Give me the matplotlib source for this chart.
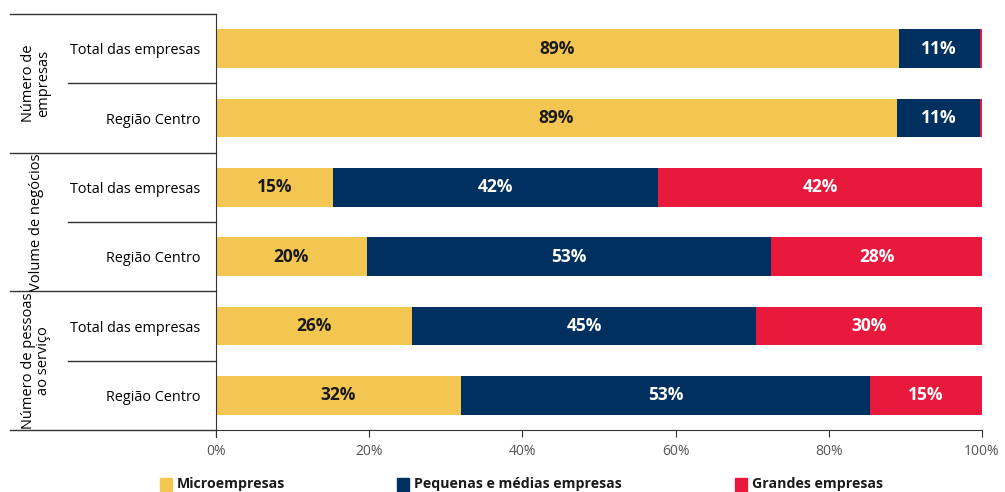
import matplotlib.pyplot as plt
from matplotlib.transforms import blended_transform_factory
from matplotlib.patches import Rectangle

plt.rcParams['font.family'] = ['Open Sans', 'DejaVu Sans']

rows = ['Total das empresas', 'Região Centro',
        'Total das empresas', 'Região Centro',
        'Total das empresas', 'Região Centro']
groups = ['Número de\nempresas', 'Volume de negócios', 'Número de pessoas\nao serviço']

series = ['Microempresas', 'Pequenas e médias empresas', 'Grandes empresas']
colors = ['#F2C651', '#00305F', '#E8193C']
text_colors = ['#1a1a1a', 'white', 'white']

micro = [89.1, 88.9, 15.3, 19.7, 25.6, 32.0]
pme = [10.6, 10.8, 42.4, 52.8, 44.9, 53.4]
grandes = [0.3, 0.3, 42.3, 27.5, 29.5, 14.6]

micro_lbl = ['89%', '89%', '15%', '20%', '26%', '32%']
pme_lbl = ['11%', '11%', '42%', '53%', '45%', '53%']
grandes_lbl = ['', '', '42%', '28%', '30%', '15%']

fig = plt.figure(figsize=(10.05, 4.92), dpi=100)
ax = fig.add_axes([216 / 1005, 1 - 430 / 492, 766 / 1005, 416 / 492])

y = list(range(len(rows)))
left = [0] * len(rows)
for vals, lbls, c, tc in zip([micro, pme, grandes],
                             [micro_lbl, pme_lbl, grandes_lbl],
                             colors, text_colors):
    bars = ax.barh(y, vals, left=left, height=0.56, color=c)
    for b, l in zip(bars, lbls):
        if l:
            ax.text(b.get_x() + b.get_width() / 2, b.get_y() + b.get_height() / 2, l,
                    ha='center', va='center', color=tc, fontsize=12.5, fontweight='bold')
    left = [a + v for a, v in zip(left, vals)]

ax.set_xlim(0, 100)
ax.set_ylim(5.5, -0.5)
ax.set_yticks(y)
ax.set_yticklabels(rows, fontsize=10.4)
ax.tick_params(axis='y', length=0, pad=11)
ax.set_xticks([0, 20, 40, 60, 80, 100])
ax.set_xticklabels(['0%', '20%', '40%', '60%', '80%', '100%'], fontsize=10, color='#555555')
ax.tick_params(axis='x', length=5, width=0.8, pad=5, color='#333333')
for s in ['top', 'right']:
    ax.spines[s].set_visible(False)
ax.spines['left'].set_color('#333333')
ax.spines['bottom'].set_color('#333333')
ax.spines['left'].set_bounds(5.6, -0.5)

# table lines on the left
tr = blended_transform_factory(fig.transFigure, ax.transData)
for yy, x0 in [(-0.5, 10), (0.5, 68), (1.5, 10), (2.5, 68), (3.5, 10), (4.5, 68), (5.5, 10)]:
    ax.plot([x0 / 1005, 216 / 1005], [yy, yy], color='#333333', lw=1,
            transform=tr, clip_on=False)

for i, g in enumerate(groups):
    ax.text(36 / 1005, 2 * i + 0.5, g, transform=tr, rotation=90,
            ha='center', va='center', fontsize=10.5, linespacing=1.05,
            multialignment='center')

# legend
for name, c, x0 in zip(series, colors, [160, 397, 735]):
    fig.patches.append(Rectangle((x0 / 1005, 1 - 491 / 492), 12 / 1005, 13 / 492,
                                 transform=fig.transFigure, color=c))
    fig.text((x0 + 17) / 1005, 1 - 484 / 492, name, ha='left', va='center',
             fontsize=10.2, fontweight='bold', color='#1a1a1a')

fig.savefig('out.png', dpi=100)
